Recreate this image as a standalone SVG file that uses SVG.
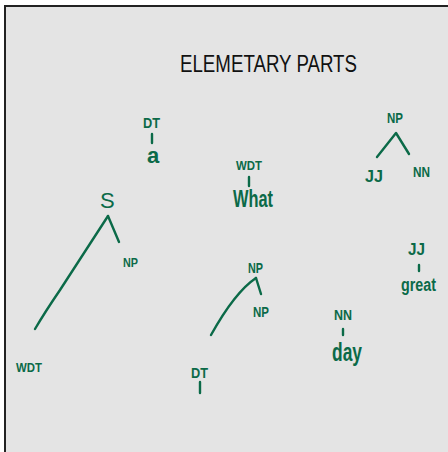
<svg xmlns="http://www.w3.org/2000/svg" width="448" height="452" viewBox="0 0 448 452">
<style>
.g{fill:#0b6a48;font-family:"Liberation Sans",Arial,sans-serif;font-weight:bold;}
.c{fill:none;stroke:#0b6a48;stroke-width:2.4;stroke-linecap:round;stroke-linejoin:round;}
.t{fill:#111;font-family:"Liberation Sans",Arial,sans-serif;font-size:23px;}
</style>
<rect x="0" y="0" width="448" height="452" fill="#ffffff"/>
<rect x="5" y="6" width="450" height="450" fill="#e4e4e4" stroke="#222" stroke-width="2"/>
<g id="title"><text class="t" x="180" y="72" textLength="177" lengthAdjust="spacingAndGlyphs">ELEMETARY PARTS</text></g>
<g id="connectors">
<path class="c" d="M108,216 L60,290 Q45,312 35,329"/>
<path class="c" d="M108,216 L119,242"/>
<path class="c" d="M256,278 Q235,292 211,335"/>
<path class="c" d="M256,278 L261,294"/>
<path class="c" d="M377,157 L396,133 L409,154"/>
<path class="c" d="M152,134 L152,143"/>
<path class="c" d="M249,177 L249,186"/>
<path class="c" d="M419,265 L419,271"/>
<path class="c" d="M200,382 L200,393"/>
<path class="c" d="M343,329 L343,335"/>
</g>
<g id="dt-a"><text class="g" x="143" y="128" font-size="15" textLength="17" lengthAdjust="spacingAndGlyphs">DT</text><text class="g" x="147" y="163" font-size="22">a</text></g>
<g id="wdt-what"><text class="g" x="236" y="170" font-size="13" textLength="26" lengthAdjust="spacingAndGlyphs">WDT</text><text class="g" x="233" y="207" font-size="24" textLength="40" lengthAdjust="spacingAndGlyphs">What</text></g>
<g id="s"><text class="g" x="100" y="208" font-size="22" style="font-weight:normal">S</text></g>
<g id="s-np"><text class="g" x="123" y="267" font-size="13" textLength="15" lengthAdjust="spacingAndGlyphs">NP</text></g>
<g id="s-wdt"><text class="g" x="16" y="372" font-size="13" textLength="26" lengthAdjust="spacingAndGlyphs">WDT</text></g>
<g id="np-top"><text class="g" x="387" y="123" font-size="14" textLength="16" lengthAdjust="spacingAndGlyphs">NP</text></g>
<g id="jj"><text class="g" x="365" y="182" font-size="17" textLength="18" lengthAdjust="spacingAndGlyphs">JJ</text></g>
<g id="nn"><text class="g" x="413" y="177" font-size="14" textLength="17" lengthAdjust="spacingAndGlyphs">NN</text></g>
<g id="jj-great"><text class="g" x="408" y="255" font-size="17" textLength="17" lengthAdjust="spacingAndGlyphs">JJ</text><text class="g" x="401" y="291" font-size="18" textLength="35" lengthAdjust="spacingAndGlyphs">great</text></g>
<g id="np-mid"><text class="g" x="248" y="273" font-size="14" textLength="15" lengthAdjust="spacingAndGlyphs">NP</text></g>
<g id="np-mid-child"><text class="g" x="253" y="317" font-size="14" textLength="16" lengthAdjust="spacingAndGlyphs">NP</text></g>
<g id="dt-bottom"><text class="g" x="191" y="378" font-size="15" textLength="17" lengthAdjust="spacingAndGlyphs">DT</text></g>
<g id="nn-day"><text class="g" x="334" y="320" font-size="14" textLength="18" lengthAdjust="spacingAndGlyphs">NN</text><text class="g" x="332" y="361" font-size="25" textLength="30" lengthAdjust="spacingAndGlyphs">day</text></g>
</svg>
